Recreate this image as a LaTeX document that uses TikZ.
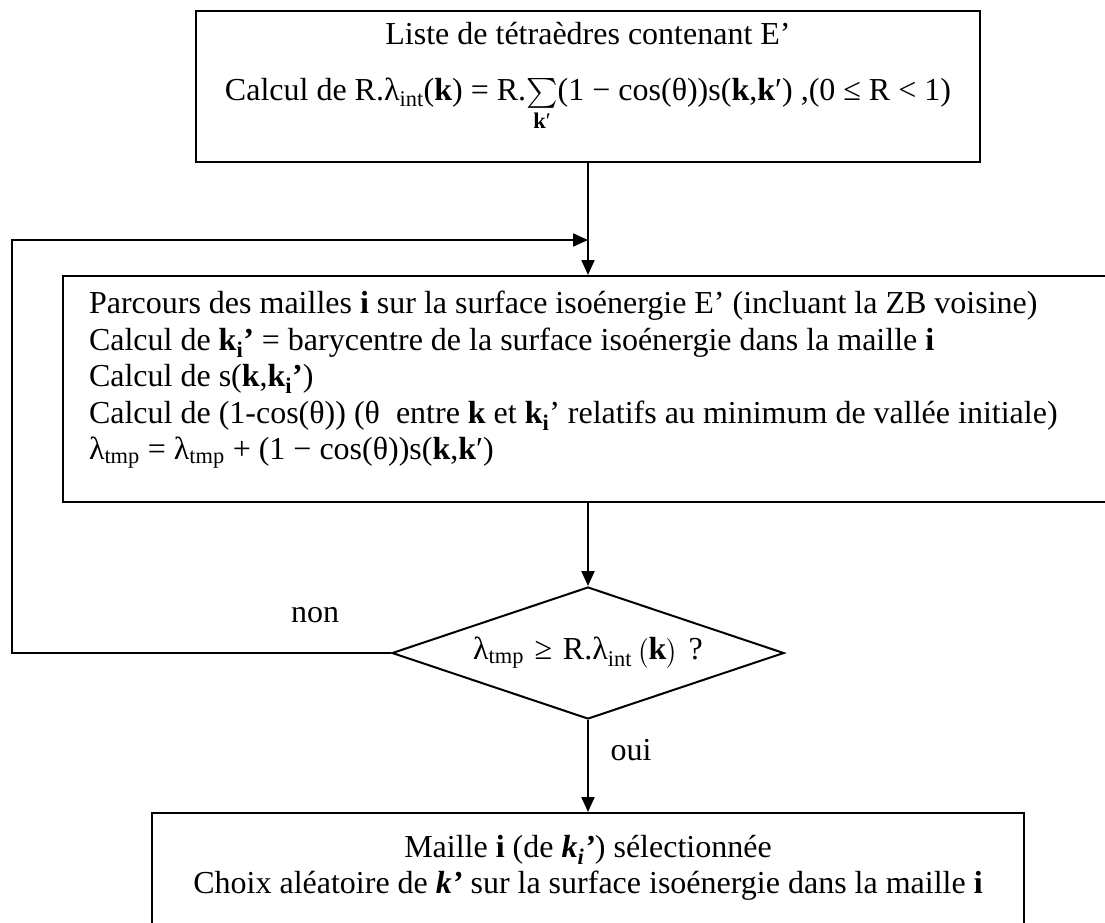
\documentclass[tikz,border=0pt]{standalone}
\usepackage{amsmath}
\usepackage{fontspec}
\setmainfont{Liberation Serif}
\usetikzlibrary{positioning, shapes.geometric, arrows.meta, calc}

\newcommand{\grandsomme}{\mathop{\vcenter{\hbox{\scalebox{1.2}{$\sum$}}}}}

\begin{document}
\begin{tikzpicture}[x=1pt, y=-1pt,
    font=\fontsize{32}{36.5}\selectfont,
    line width=2pt,
    boite/.style={draw, rectangle, inner sep=0pt},
    choix/.style={draw, diamond, aspect=3, inner sep=0pt, minimum width=392pt, minimum height=132pt},
    fleche/.style={-{Triangle[length=15pt, width=13pt]}},
    lbl/.style={inner sep=0pt}]
  \useasboundingbox (0,0) rectangle (1105,922);

  % boites
  \node[boite, minimum width=784pt, minimum height=151pt] (liste) at (588,86.5) {};
  \node[boite, minimum width=1050pt, minimum height=226pt] (parcours) at (588,389) {};
  \node[choix] (test) at (588,653) {λ\textsubscript{tmp}\,\,≥\,\,R.λ\textsubscript{int}\,$\big($\textbf{k}$\big)$\,\,?};
  \node[boite, minimum width=872pt, minimum height=127pt] (maille) at (588,876.5) {};

  % textes
  \node[lbl, anchor=base] (titre) at (588,44) {Liste de tétraèdres contenant E’};
  \node[lbl, anchor=base] (calcR) at (588,100) {Calcul de R.λ\textsubscript{int}(\textbf{k}) = R.$\grandsomme\limits_{\text{\textbf{k}′}}$(1 − cos(θ))s(\textbf{k},\textbf{k}′) ,(0 ≤ R < 1)};
  \node[lbl, anchor=north west, align=left] (etapes) at (88,290) {%
    Parcours des mailles \textbf{i} sur la surface isoénergie E’ (incluant la ZB voisine)\\
    Calcul de \textbf{k\textsubscript{i}’} = barycentre de la surface isoénergie dans la maille \textbf{i}\\
    Calcul de s(\textbf{k},\textbf{k\textsubscript{i}’})\\
    Calcul de (1-cos(θ)) (θ\ \ entre \textbf{k} et \textbf{k\textsubscript{i}}’ relatifs au minimum de vallée initiale)\\
    λ\textsubscript{tmp} = λ\textsubscript{tmp} + (1 − cos(θ))s(\textbf{k},\textbf{k}′)};
  \node[lbl, align=center] (resultat) at (588,868) {%
    Maille \textbf{i} (de \textbf{\textit{k\textsubscript{i}’}}) sélectionnée\\
    Choix aléatoire de \textbf{\textit{k’}} sur la surface isoénergie dans la maille \textbf{i}};
  \node[lbl] (non) at (315,615) {non};
  \node[lbl] (oui) at (631,750) {oui};

  % liaisons
  \coordinate (bord) at (12,0);
  \coordinate (jonction) at (588,240);
  \draw[fleche] (liste.south) -- (parcours.north);
  \draw[fleche] (parcours.south) -- (test.north);
  \draw[fleche] (test.south) -- (maille.north);
  \draw[fleche] (test.west) -- (test.west -| bord) |- (jonction);
\end{tikzpicture}
\end{document}
